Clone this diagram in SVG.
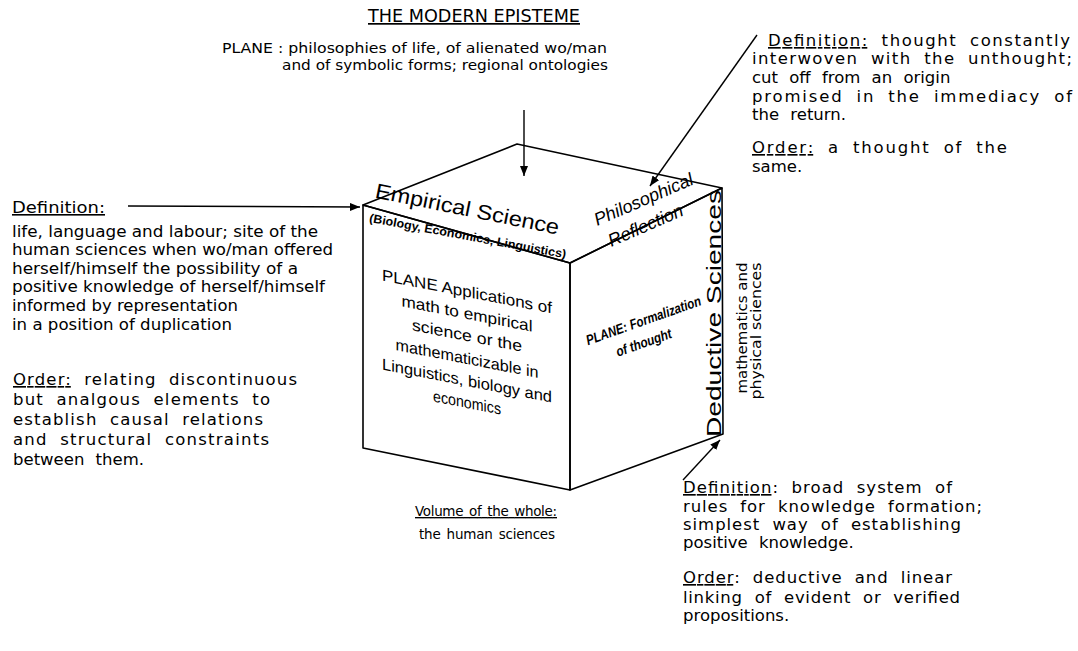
<svg xmlns="http://www.w3.org/2000/svg" width="1078" height="651" viewBox="0 0 1078 651">
<style>
.v{font-family:"DejaVu Sans","Liberation Sans",sans-serif;fill:#000}
.w{font-family:"DejaVu Sans","Liberation Sans",sans-serif;fill:#000;font-size:16.5px;word-spacing:6px}
.c{font-family:"Liberation Sans","DejaVu Sans",sans-serif;fill:#000}
.n{font-family:"Liberation Sans Narrow","Liberation Sans",sans-serif;fill:#000}
.u{text-decoration:underline}
.edge{fill:none;stroke:#000;stroke-width:1.6;stroke-linejoin:round}
.con{fill:none;stroke:#000;stroke-width:1.4}
</style>
<defs>
<marker id="arr" markerUnits="userSpaceOnUse" markerWidth="10" markerHeight="8" refX="10" refY="4" orient="auto">
<path d="M0,0 L10,4 L0,8 z" fill="#000"/>
</marker>
</defs>
<rect width="1078" height="651" fill="#fff"/>

<g id="title">
<text class="v u" x="368" y="22" font-size="17" textLength="212" lengthAdjust="spacingAndGlyphs">THE MODERN EPISTEME</text>
</g>

<g id="top-plane" font-size="14">
<text class="v" x="222" y="53" textLength="385" lengthAdjust="spacingAndGlyphs">PLANE : philosophies of life, of alienated wo/man</text>
<text class="v" x="282" y="70" textLength="326" lengthAdjust="spacingAndGlyphs">and of symbolic forms; regional ontologies</text>
</g>

<g id="cube">
<polygon class="edge" points="363,205 570,263 570,490 363,448"/>
<polygon class="edge" points="570,263 722,188 723,434 570,490"/>
<polygon class="edge" points="363,205 517,144 722,188 570,263"/>
<text class="c" font-size="21" transform="translate(466,216) rotate(11.4)" text-anchor="middle" textLength="187" lengthAdjust="spacingAndGlyphs">Empirical Science</text>
<text class="c" font-size="12" font-weight="bold" transform="translate(467,240) rotate(10.5)" text-anchor="middle" textLength="200" lengthAdjust="spacingAndGlyphs">(Biology, Economics, Linguistics)</text>
<text class="c" font-size="18" font-style="italic" transform="translate(646,205) rotate(-23.4)" text-anchor="middle" textLength="106" lengthAdjust="spacingAndGlyphs">Philosophical</text>
<text class="c" font-size="18" font-style="italic" transform="translate(648,231) rotate(-23.7)" text-anchor="middle" textLength="80" lengthAdjust="spacingAndGlyphs">Reflection</text>
<g transform="translate(467,0) skewY(11)" font-size="16" text-anchor="middle">
<text class="n" x="0" y="297" textLength="170" lengthAdjust="spacingAndGlyphs">PLANE  Applications of</text>
<text class="n" x="0" y="319" textLength="131" lengthAdjust="spacingAndGlyphs">math to empirical</text>
<text class="n" x="0" y="341" textLength="110" lengthAdjust="spacingAndGlyphs">science or the</text>
<text class="n" x="0" y="364" textLength="143" lengthAdjust="spacingAndGlyphs">mathematicizable in</text>
<text class="n" x="0" y="386" textLength="170" lengthAdjust="spacingAndGlyphs">Linguistics, biology and</text>
<text class="n" x="0" y="408" textLength="68" lengthAdjust="spacingAndGlyphs">economics</text>
</g>
<g transform="translate(645,325) rotate(-19.5)" font-size="14" font-style="italic" font-weight="bold" text-anchor="middle">
<text class="n" x="0" y="0" textLength="121" lengthAdjust="spacingAndGlyphs">PLANE: Formalization</text>
<text class="n" x="-7" y="21" textLength="58" lengthAdjust="spacingAndGlyphs">of thought</text>
</g>
<text class="c" font-size="20" transform="translate(721,437) rotate(-90)" textLength="247" lengthAdjust="spacingAndGlyphs">Deductive Sciences</text>
<text class="v" font-size="14" transform="translate(747,328) rotate(-90)" text-anchor="middle" textLength="131" lengthAdjust="spacingAndGlyphs">mathematics and</text>
<text class="v" font-size="14" transform="translate(761,331) rotate(-90)" text-anchor="middle" textLength="137" lengthAdjust="spacingAndGlyphs">physical sciences</text>
</g>

<g id="left-def" font-size="15">
<text class="v u" x="12" y="213" font-size="16" textLength="93" lengthAdjust="spacingAndGlyphs">Definition:</text>
<text class="v" x="12" y="237" textLength="306" lengthAdjust="spacingAndGlyphs">life, language and labour; site of the</text>
<text class="v" x="12" y="255" textLength="321" lengthAdjust="spacingAndGlyphs">human sciences when wo/man offered</text>
<text class="v" x="12" y="274" textLength="286" lengthAdjust="spacingAndGlyphs">herself/himself the possibility of a</text>
<text class="v" x="12" y="292" textLength="313" lengthAdjust="spacingAndGlyphs">positive knowledge of herself/himself</text>
<text class="v" x="12" y="311" textLength="226" lengthAdjust="spacingAndGlyphs">informed by representation</text>
<text class="v" x="12" y="330" textLength="220" lengthAdjust="spacingAndGlyphs">in a position of duplication</text>
</g>

<g id="left-order">
<text class="w" x="13" y="385" textLength="284"><tspan class="u">Order:</tspan> relating discontinuous</text>
<text class="w" x="13" y="405" textLength="257">but analgous elements to</text>
<text class="w" x="13" y="425" textLength="250">establish causal relations</text>
<text class="w" x="13" y="445" textLength="256">and structural constraints</text>
<text class="w" x="13" y="465">between them.</text>
</g>

<g id="right-def">
<text class="w" x="768" y="46" textLength="302"><tspan class="u">Definition:</tspan> thought constantly</text>
<text class="w" x="752" y="64" textLength="320">interwoven with the unthought;</text>
<text class="w" x="752" y="83">cut off from an origin</text>
<text class="w" x="752" y="102" textLength="320">promised in the immediacy of</text>
<text class="w" x="752" y="120">the return.</text>
<text class="w" x="752" y="153" textLength="255"><tspan class="u">Order:</tspan> a thought of the</text>
<text class="w" x="752" y="172">same.</text>
</g>

<g id="deductive-def">
<text class="w" x="683" y="493" textLength="269"><tspan class="u">Definition</tspan>: broad system of</text>
<text class="w" x="683" y="512" textLength="299">rules for knowledge formation;</text>
<text class="w" x="683" y="530" textLength="278">simplest way of establishing</text>
<text class="w" x="683" y="548">positive knowledge.</text>
<text class="w" x="683" y="583" textLength="269"><tspan class="u">Order</tspan>: deductive and linear</text>
<text class="w" x="683" y="603" textLength="277">linking of evident or verified</text>
<text class="w" x="683" y="621">propositions.</text>
</g>

<g id="volume" text-anchor="middle">
<text class="v u" x="486" y="516" font-size="13.5" word-spacing="2" textLength="142">Volume of the whole:</text>
<text class="v" x="487" y="539" font-size="13.5" word-spacing="2" textLength="136">the human sciences</text>
</g>

<g id="connectors">
<line class="con" x1="524" y1="110" x2="524" y2="176" marker-end="url(#arr)"/>
<line class="con" x1="128" y1="206" x2="360" y2="207" marker-end="url(#arr)"/>
<line class="con" x1="757" y1="35" x2="650" y2="186" marker-end="url(#arr)"/>
<line class="con" x1="683" y1="480" x2="720" y2="440" marker-end="url(#arr)"/>
</g>
</svg>
